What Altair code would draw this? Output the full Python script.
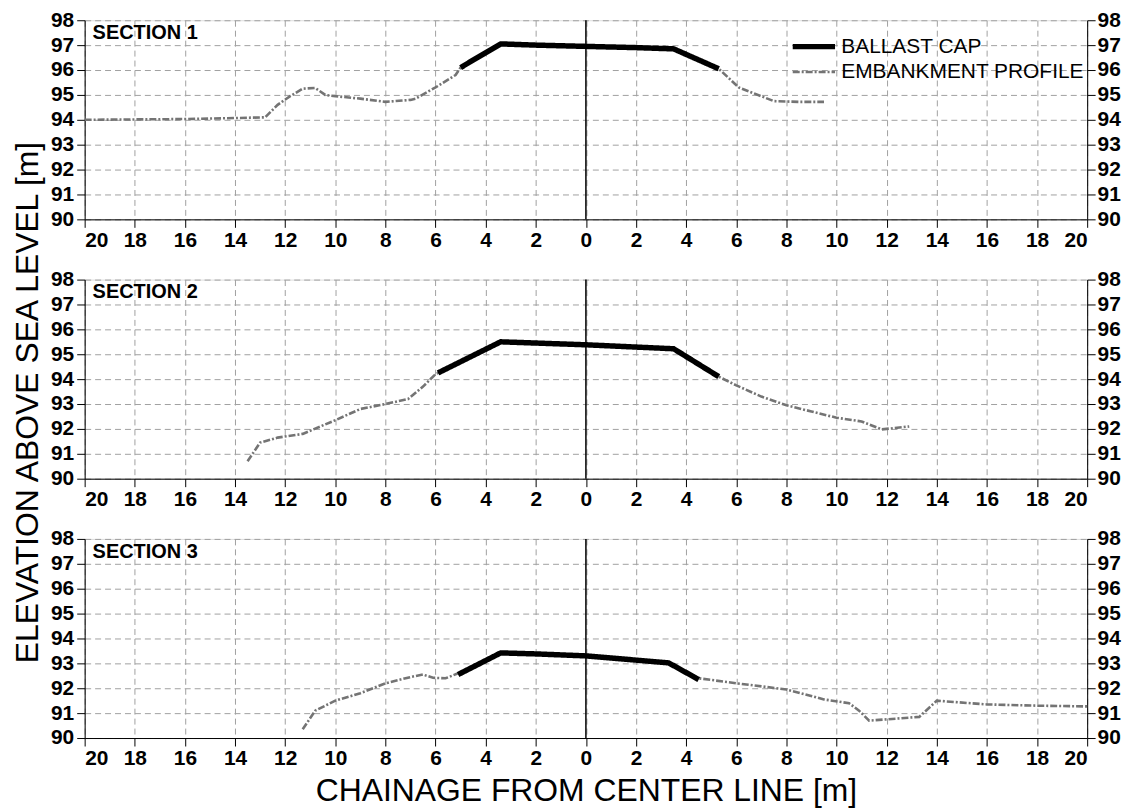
import altair as alt
import pandas as pd

SERIES = ["BALLAST CAP", "EMBANKMENT PROFILE"]
SECTIONS = ["SECTION 1", "SECTION 2", "SECTION 3"]
X_TITLE = "CHAINAGE FROM CENTER LINE [m]"
Y_TITLE = "ELEVATION ABOVE SEA LEVEL [m]"
X_TICKS = list(range(-20, 21, 2))
Y_TICKS = list(range(90, 99))

# Section 1
emb1_x = [-20, -16, -14, -12.8, -12.3, -11.8, -11.3, -10.8, -10.4, -10, -9, -8, -7, -6.8, -6, -5.2, -5.0,
          -3.4, -2, 0, 2, 3.5, 5.3, 6.1, 7.5, 8.5, 9.5]
emb1_y = [94.0, 94.03, 94.07, 94.1, 94.6, 94.95, 95.25, 95.28, 95.0, 94.95, 94.85, 94.72, 94.8, 94.85, 95.3, 95.8, 96.1,
          97.05, 97.0, 96.95, 96.9, 96.85, 96.05, 95.3, 94.75, 94.72, 94.72]
bal1_x = [-5.0, -3.4, -2, 0, 2, 3.5, 5.3]
bal1_y = [96.1, 97.05, 97.0, 96.95, 96.9, 96.85, 96.05]

# Section 2
emb2_x = [-13.5, -13.0, -12.3, -11.3, -10, -9, -8, -7.1, -6.5, -6.0, -5.9, -3.4, -2, 0, 3.5, 5.3,
          6, 7, 8, 9, 10, 11, 11.8, 12.9]
emb2_y = [90.7, 91.45, 91.65, 91.8, 92.35, 92.8, 93.0, 93.2, 93.7, 94.2, 94.25, 95.5, 95.45, 95.38, 95.22, 94.1,
          93.75, 93.3, 92.95, 92.7, 92.45, 92.3, 91.98, 92.1]
bal2_x = [-5.9, -3.4, -2, 0, 3.5, 5.3]
bal2_y = [94.25, 95.5, 95.45, 95.38, 95.22, 94.1]

# Section 3
emb3_x = [-11.3, -10.8, -10, -9, -8, -7, -6.5, -6.1, -5.6, -5.1, -3.4, -2, 0, 3.3, 4.5,
          6, 8, 9.5, 10.5, 10.9, 11.3, 12, 13.3, 14, 16, 18, 20]
emb3_y = [90.35, 91.1, 91.5, 91.8, 92.2, 92.45, 92.55, 92.42, 92.4, 92.6, 93.42, 93.38, 93.3, 93.02, 92.4,
          92.2, 91.95, 91.55, 91.4, 91.1, 90.7, 90.75, 90.85, 91.5, 91.35, 91.3, 91.27]
bal3_x = [-5.1, -3.4, -2, 0, 3.3, 4.5]
bal3_y = [92.55, 93.42, 93.38, 93.3, 93.02, 92.35]

FONT = "Liberation Sans"
W, H = 1007, 200
LBL = 21
TITLE = 32

xs = alt.Scale(domain=[-20, 20], nice=False, zero=False)
ys = alt.Scale(domain=[90, 98], nice=False, zero=False)


def panel(label, ex, ey, bx, by, legend, xtitle, ytitle):
    emb = pd.DataFrame({"x": ex, "y": ey, "series": SERIES[1]})
    bal = pd.DataFrame({"x": bx, "y": by, "series": SERIES[0]})
    leg = alt.Legend(title=None, orient="none", legendX=717, legendY=11, symbolType="M-1.7,0H1.7",
                     symbolSize=625, labelFontSize=21, labelFont=FONT, labelColor="black",
                     labelLimit=500, rowPadding=0, labelOffset=12, padding=0) if legend else None
    color = alt.Color("series:N", scale=alt.Scale(domain=SERIES, range=["#000000", "#747474"]), legend=leg)
    dash = alt.StrokeDash("series:N", scale=alt.Scale(domain=SERIES, range=[[1, 0], [7, 2, 2, 2]]), legend=leg)
    width = alt.StrokeWidth("series:N", scale=alt.Scale(domain=SERIES, range=[5.5, 2.6]), legend=leg)

    xaxis = alt.Axis(values=X_TICKS, labelExpr="abs(datum.value)", grid=True, gridDash=[6, 4],
                     gridColor="#a0a0a0", gridWidth=1, tickColor="black", tickSize=8, domainColor="black",
                     labelFontSize=LBL, labelFont=FONT, labelColor="black", labelFontWeight="bold",
                     labelPadding=2, title=xtitle, titleFontSize=TITLE, titleFont=FONT,
                     titleFontWeight="normal", titleColor="black", titlePadding=7)
    yaxis = alt.Axis(values=Y_TICKS, grid=True, gridDash=[6, 4], gridColor="#a0a0a0", gridWidth=1,
                     tickColor="black", tickSize=8, domainColor="black", labelFontSize=LBL, labelFont=FONT,
                     labelColor="black", labelFontWeight="bold", labelPadding=3,
                     title=ytitle, titleFontSize=TITLE, titleFont=FONT,
                     titleFontWeight="normal", titleColor="black", titlePadding=6, titleY=123)
    raxis = alt.Axis(values=Y_TICKS, grid=False, tickColor="black", tickSize=8, domainColor="black",
                     labelFontSize=LBL, labelFont=FONT, labelColor="black", labelFontWeight="bold",
                     labelPadding=2, title=None)

    centre = alt.Chart(pd.DataFrame({"x": [0]})).mark_rule(color="black", strokeWidth=1.5).encode(
        x=alt.X("x:Q", scale=xs, axis=xaxis))
    emb_line = alt.Chart(emb).mark_line().encode(
        x=alt.X("x:Q", scale=xs, axis=xaxis),
        y=alt.Y("y:Q", scale=ys, axis=yaxis),
        color=color, strokeDash=dash, strokeWidth=width)
    bal_line = alt.Chart(bal).mark_line(strokeCap="butt").encode(
        x=alt.X("x:Q", scale=xs, axis=xaxis),
        y=alt.Y("y:Q", scale=ys, axis=None),
        color=color, strokeDash=dash, strokeWidth=width)
    right = alt.Chart(emb).mark_line(opacity=0).encode(
        x=alt.X("x:Q", scale=xs, axis=xaxis),
        y=alt.Y("y:Q", scale=ys, axis=raxis))
    text = alt.Chart(pd.DataFrame({"t": [label]})).mark_text(
        align="left", baseline="top", font=FONT, fontSize=20, fontWeight="bold", color="black").encode(
        x=alt.value(8), y=alt.value(3), text="t:N")
    return alt.layer(centre, emb_line, bal_line, right, text).resolve_scale(y="independent").properties(
        width=W, height=H)


p1 = panel(SECTIONS[0], emb1_x, emb1_y, bal1_x, bal1_y, True, None, None)
p2 = panel(SECTIONS[1], emb2_x, emb2_y, bal2_x, bal2_y, False, None, Y_TITLE)
p3 = panel(SECTIONS[2], emb3_x, emb3_y, bal3_x, bal3_y, False, X_TITLE, None)

chart = alt.vconcat(p1, p2, p3, spacing=60.5, bounds="flush").resolve_legend(
    color="independent", strokeDash="independent", strokeWidth="independent").properties(
    padding={"left": 3, "top": -1.5, "right": 2, "bottom": 2}).configure_view(
    stroke="black", strokeWidth=1.5).configure(background="white")

chart.save("out.html", embed_options={"renderer": "svg", "actions": False})
